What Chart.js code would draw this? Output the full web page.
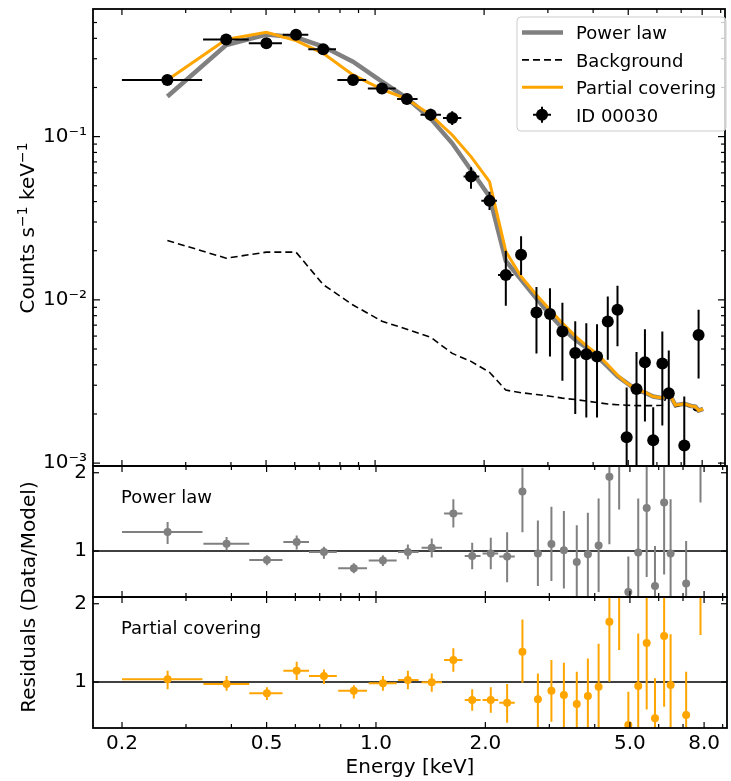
<!DOCTYPE html>
<html>
<head>
<meta charset="utf-8">
<script src="https://cdn.jsdelivr.net/npm/chart.js@4.4.0/dist/chart.umd.min.js"></script>
<style>
  html, body { margin: 0; padding: 0; background: #fff; }
  #wrap { position: relative; width: 731px; height: 781px; overflow: hidden; }
  #wrap canvas { position: absolute; left: 0; top: 0; }
  .ylab {
    position: absolute;
    font: 20px 'DejaVu Sans', sans-serif;
    line-height: 1;
    white-space: nowrap;
    color: #000;
    transform: translate(-50%, -50%) rotate(-90deg);
  }
  .ylab sup { font-size: 70%; }
</style>
</head>
<body>
<div id="wrap">
  <canvas id="spec" width="731" height="781"></canvas>
  <canvas id="resPl" width="731" height="781"></canvas>
  <canvas id="resPc" width="731" height="781"></canvas>
  <div class="ylab" style="left:26px; top:228px">Counts s<sup>−1</sup> keV<sup>−1</sup></div>
  <div class="ylab" style="left:28px; top:597px">Residuals (Data/Model)</div>
</div>
<script>
// ---- data ----
const energy   = [0.267, 0.388, 0.501, 0.605, 0.719, 0.869, 1.045, 1.224, 1.424, 1.633,
                  1.84, 2.07, 2.296, 2.53, 2.79, 3.04, 3.29, 3.57, 3.83, 4.10,
                  4.39, 4.67, 4.95, 5.27, 5.56, 5.86, 6.21, 6.47, 7.14, 7.82];
const energyLo = [0.200, 0.335, 0.448, 0.556, 0.654, 0.787, 0.955, 1.150, 1.335, 1.540,
                  1.755, 1.965, 2.185, 2.48, 2.74, 2.98, 3.23, 3.50, 3.76, 4.02,
                  4.30, 4.58, 4.85, 5.17, 5.45, 5.74, 6.09, 6.34, 7.00, 7.66];
const energyHi = [0.333, 0.448, 0.553, 0.654, 0.780, 0.945, 1.140, 1.310, 1.520, 1.730,
                  1.940, 2.170, 2.410, 2.58, 2.85, 3.10, 3.36, 3.64, 3.91, 4.18,
                  4.48, 4.76, 5.05, 5.38, 5.67, 5.98, 6.33, 6.60, 7.28, 7.98];

const rate   = [0.222, 0.394, 0.373, 0.421, 0.343, 0.222, 0.197, 0.170, 0.136, 0.130,
                0.0569, 0.0404, 0.0142, 0.0189, 0.00836, 0.0082, 0.0064, 0.00472, 0.00465, 0.0045,
                0.00736, 0.0087, 0.00144, 0.00284, 0.00415, 0.00138, 0.00408, 0.00268, 0.00128, 0.0061];
const rateLo = [0.210, 0.375, 0.355, 0.400, 0.325, 0.210, 0.185, 0.158, 0.125, 0.118,
                0.048, 0.0355, 0.0092, 0.0142, 0.0047, 0.0045, 0.0032, 0.0020, 0.0019, 0.0019,
                0.0043, 0.0052, 0.0001, 0.0001, 0.0018, 0.0001, 0.0017, 0.0001, 0.0001, 0.0033];
const rateHi = [0.234, 0.415, 0.393, 0.445, 0.362, 0.236, 0.210, 0.183, 0.148, 0.143,
                0.065, 0.046, 0.020, 0.0245, 0.0120, 0.0118, 0.0096, 0.0074, 0.0072, 0.0071,
                0.0105, 0.0122, 0.0029, 0.0048, 0.0066, 0.0022, 0.0064, 0.0049, 0.00256, 0.0087];

const modelEnergy = [0.267, 0.388, 0.501, 0.605, 0.719, 0.869, 1.045, 1.224, 1.424, 1.633,
                     1.84, 2.07, 2.296, 2.53, 2.79, 3.04, 3.29, 3.57, 3.83, 4.10,
                     4.39, 4.67, 4.95, 5.27, 5.56, 5.86, 6.21, 6.47, 6.75, 7.14,
                     7.45, 7.66, 7.82, 8.05];
const powerLaw   = [0.176, 0.364, 0.422, 0.406, 0.356, 0.288, 0.217, 0.172, 0.129, 0.091,
                    0.0625, 0.0429, 0.0173, 0.0133, 0.0102, 0.0081, 0.0067, 0.0057, 0.0051, 0.0045,
                    0.0039, 0.0034, 0.0031, 0.0028, 0.0027, 0.00256, 0.0025, 0.0027, 0.00226, 0.00231,
                    0.00224, 0.00222, 0.0021, 0.00215];
const partialCov = [0.222, 0.394, 0.435, 0.387, 0.324, 0.239, 0.195, 0.170, 0.136, 0.1024,
                    0.0754, 0.053, 0.0198, 0.0139, 0.0107, 0.0087, 0.0072, 0.0060, 0.00524, 0.00467,
                    0.0040, 0.00346, 0.00309, 0.00283, 0.00272, 0.00256, 0.00251, 0.00272, 0.00226, 0.00231,
                    0.00224, 0.00222, 0.0021, 0.00215];
const background = [0.0231, 0.018, 0.0196, 0.0196, 0.0124, 0.0093, 0.0074, 0.0066, 0.0059, 0.0047,
                    0.0042, 0.0036, 0.0028, 0.0027, 0.00263, 0.00257, 0.0025, 0.00245, 0.0024, 0.00235,
                    0.0023, 0.00228, 0.00226, 0.00225, 0.00225, 0.00225, 0.00226, 0.0027, 0.00222, 0.0023,
                    0.0022, 0.0021, 0.0021, 0.00215];

const resPowerLaw   = [1.243, 1.094, 0.885, 1.115, 0.987, 0.78, 0.88, 0.987, 1.043, 1.48,
                       0.936, 0.97, 0.93, 1.76, 0.97, 1.09, 1.01, 0.86, 0.96, 1.07,
                       1.95, 2.35, 0.476, 0.98, 1.55, 0.553, 1.62, 0.97, 0.584, 2.6];
const resPowerLawLo = [1.09, 1.01, 0.817, 1.02, 0.90, 0.715, 0.81, 0.894, 0.916, 1.30,
                       0.766, 0.766, 0.60, 1.24, 0.553, 0.617, 0.52, 0.38, 0.40, 0.476,
                       1.086, 1.53, 0.0, 0.0, 0.67, 0.0, 0.70, 0.0, 0.0, 1.62];
const resPowerLawHi = [1.37, 1.18, 0.945, 1.20, 1.056, 0.843, 0.945, 1.085, 1.16, 1.66,
                       1.107, 1.17, 1.24, 2.065, 1.39, 1.567, 1.51, 1.33, 1.49, 1.67,
                       2.8, 3.2, 0.93, 1.67, 2.45, 1.064, 2.55, 1.66, 1.128, 3.6];

const resPartial   = [1.034, 0.974, 0.856, 1.144, 1.077, 0.889, 0.983, 1.026, 0.996, 1.28,
                      0.77, 0.77, 0.736, 1.387, 0.779, 0.889, 0.834, 0.719, 0.821, 0.94,
                      1.77, 2.3, 0.45, 0.949, 1.50, 0.536, 1.587, 0.962, 0.58, 2.6];
const resPartialLo = [0.907, 0.889, 0.77, 1.026, 0.974, 0.79, 0.889, 0.907, 0.876, 1.13,
                      0.633, 0.608, 0.48, 0.99, 0.38, 0.493, 0.40, 0.30, 0.35, 0.38,
                      1.004, 1.41, 0.0, 0.0, 0.65, 0.0, 0.685, 0.0, 0.0, 1.60];
const resPartialHi = [1.144, 1.077, 0.932, 1.26, 1.16, 0.96, 1.077, 1.144, 1.11, 1.43,
                      0.907, 0.932, 0.974, 1.80, 1.11, 1.28, 1.246, 1.13, 1.30, 1.49,
                      2.6, 3.2, 0.876, 1.62, 2.4, 1.047, 2.5, 1.61, 1.13, 3.6];

const xTickLabels = [0.2, 0.5, 1.0, 2.0, 5.0, 8.0];
const xMinorTicks = [0.3, 0.4, 0.6, 0.7, 0.8, 0.9, 3, 4, 6, 7, 9];
const yDecades = [0.001, 0.01, 0.1];
const resTicks = [1, 2];

// ---- layout constants ----
const X_MIN = 0.1664, X_MAX = 9.25;
const AXIS_W = 93;
const FONT = 'DejaVu Sans';
const ORANGE = '#ffa500', GRAY = '#808080';

Chart.defaults.font.family = FONT;
Chart.defaults.color = '#000';

const pts = (xs, ys) => xs.map((x, i) => ({ x: x, y: ys[i] }));
const pairs = (lo, hi) => lo.map((v, i) => [v, hi[i]]);

// inward ticks on all four sides plus the frame
function makeFrame(xTicks, yTicks) {
  return {
    id: 'frame',
    afterDatasetsDraw(chart) {
      const { ctx, chartArea: a, scales } = chart;
      const x = scales.x, y = scales.y;
      ctx.save();
      ctx.strokeStyle = '#000';
      ctx.lineWidth = 1.2;
      const line = (x1, y1, x2, y2) => {
        ctx.beginPath(); ctx.moveTo(x1, y1); ctx.lineTo(x2, y2); ctx.stroke();
      };
      xTicks.forEach(([v, len]) => {
        const px = x.getPixelForValue(v);
        line(px, a.bottom, px, a.bottom - len);
        line(px, a.top, px, a.top + len);
      });
      yTicks.forEach(([v, len]) => {
        const py = y.getPixelForValue(v);
        line(a.left, py, a.left + len, py);
        line(a.right, py, a.right - len, py);
      });
      ctx.lineWidth = 1.8;
      ctx.strokeRect(a.left, a.top, a.right - a.left, a.bottom - a.top);
      ctx.restore();
    }
  };
}

// error bars, drawn just before the marker dataset
const errorBars = {
  id: 'errorBars',
  beforeDatasetDraw(chart, args) {
    const ds = chart.data.datasets[args.index];
    if (!ds.yErr) return;
    const { ctx, chartArea: a, scales } = chart;
    const x = scales.x, y = scales.y;
    ctx.save();
    ctx.beginPath();
    ctx.rect(a.left, a.top, a.right - a.left, a.bottom - a.top);
    ctx.clip();
    ctx.strokeStyle = ds.barColor;
    ctx.lineWidth = 2;
    ds.data.forEach((p, i) => {
      const px = x.getPixelForValue(p.x);
      const py = y.getPixelForValue(p.y);
      ctx.beginPath();
      ctx.moveTo(px, y.getPixelForValue(ds.yErr[i][0]));
      ctx.lineTo(px, y.getPixelForValue(ds.yErr[i][1]));
      ctx.moveTo(x.getPixelForValue(ds.xErr[i][0]), py);
      ctx.lineTo(x.getPixelForValue(ds.xErr[i][1]), py);
      ctx.stroke();
    });
    ctx.restore();
  }
};

// matplotlib-like legend box in the upper right
const boxLegend = {
  id: 'boxLegend',
  afterDraw(chart) {
    const ctx = chart.ctx;
    const names = ['Power law', 'Background', 'Partial covering', 'ID 00030'];
    ctx.save();
    ctx.beginPath();
    ctx.roundRect(517, 17, 209, 114, 4);
    ctx.fillStyle = 'rgba(255,255,255,0.8)';
    ctx.fill();
    ctx.strokeStyle = '#cccccc';
    ctx.lineWidth = 1;
    ctx.stroke();
    names.forEach((name, i) => {
      const d = chart.data.datasets.find(s => s.label === name);
      const cy = 32.5 + i * 27.4;
      if (d.showLine) {
        ctx.beginPath();
        ctx.setLineDash(d.borderDash || []);
        ctx.strokeStyle = d.borderColor;
        ctx.lineWidth = d.borderWidth;
        ctx.moveTo(522, cy);
        ctx.lineTo(563, cy);
        ctx.stroke();
        ctx.setLineDash([]);
      } else {
        ctx.strokeStyle = d.barColor;
        ctx.lineWidth = 2;
        ctx.beginPath();
        ctx.moveTo(533, cy); ctx.lineTo(551, cy);
        ctx.moveTo(542, cy - 8); ctx.lineTo(542, cy + 8);
        ctx.stroke();
        ctx.beginPath();
        ctx.arc(542, cy, d.pointRadius, 0, Math.PI * 2);
        ctx.fillStyle = d.backgroundColor;
        ctx.fill();
      }
      ctx.fillStyle = '#000';
      ctx.font = '18px "' + FONT + '"';
      ctx.textBaseline = 'alphabetic';
      ctx.fillText(name, 576, cy + 6.8);
    });
    ctx.restore();
  }
};

const panelText = {
  id: 'panelText',
  afterDraw(chart, args, opts) {
    if (!opts.text) return;
    const ctx = chart.ctx;
    const a = chart.chartArea;
    ctx.save();
    ctx.font = '18px "' + FONT + '"';
    ctx.fillStyle = '#000';
    ctx.textBaseline = 'alphabetic';
    ctx.fillText(opts.text, a.left + 28, a.top + 36.5);
    ctx.restore();
  }
};

// tick lists for the frame plugin
const xFrameTicks = xTickLabels.map(v => [v, 6]).concat(xMinorTicks.map(v => [v, 4]));
const yLogTicks = [];
yDecades.forEach(d => {
  yLogTicks.push([d, 7]);
  for (let m = 2; m <= 9; m++) {
    if (d * m <= 0.6) yLogTicks.push([d * m, 4]);
  }
});
const yResTicks = resTicks.map(v => [v, 6]);

const supDigits = { 1: '\u00b9', 2: '\u00b2', 3: '\u00b3' };
const decadeLabel = v => '10\u207b' + supDigits[Math.round(-Math.log10(v))];

function yAxis(extra) {
  return Object.assign({
    bounds: 'data',
    // fixed width, and no extra room for labels at the ends
    afterFit: s => { s.width = AXIS_W; s.paddingTop = 0; s.paddingBottom = 0; },
    grid: { display: false, drawTicks: false },
    border: { display: false },
    ticks: { font: { size: 20 }, color: '#000', padding: 6, autoSkip: false }
  }, extra);
}

function xAxis(show) {
  const ax = {
    type: 'logarithmic', min: X_MIN, max: X_MAX, bounds: 'data', display: show,
    grid: { display: false, drawTicks: false },
    border: { display: false }
  };
  if (show) {
    ax.afterFit = s => { s.height = 53; s.paddingLeft = 0; s.paddingRight = 0; };
    ax.afterBuildTicks = s => { s.ticks = xTickLabels.map(v => ({ value: v })); };
    ax.ticks = {
      font: { size: 20 }, color: '#000', padding: 4, autoSkip: false, maxRotation: 0,
      callback: v => Number(v).toFixed(1)
    };
    ax.title = { display: true, text: 'Energy [keV]', font: { size: 20 }, color: '#000', padding: { top: 0, bottom: 1 } };
  }
  return ax;
}

const common = {
  responsive: false,
  animation: false,
  events: []
};

// ---- spectrum panel ----
new Chart(document.getElementById('spec'), {
  type: 'scatter',
  data: {
    datasets: [
      {
        label: 'ID 00030',
        data: pts(energy, rate),
        xErr: pairs(energyLo, energyHi),
        yErr: pairs(rateLo, rateHi),
        barColor: '#000',
        backgroundColor: '#000',
        borderWidth: 0,
        pointRadius: 6,
        order: 0
      },
      {
        label: 'Partial covering',
        data: pts(modelEnergy, partialCov),
        showLine: true, pointRadius: 0,
        borderColor: ORANGE, borderWidth: 3,
        order: 1
      },
      {
        label: 'Background',
        data: pts(modelEnergy, background),
        showLine: true, pointRadius: 0,
        borderColor: '#000', borderWidth: 1.6, borderDash: [7, 4],
        order: 2
      },
      {
        label: 'Power law',
        data: pts(modelEnergy, powerLaw),
        showLine: true, pointRadius: 0,
        borderColor: GRAY, borderWidth: 4.5,
        order: 3
      }
    ]
  },
  options: Object.assign({}, common, {
    layout: { padding: { top: 9, bottom: 781 - 466, left: 0, right: 1 } },
    scales: {
      x: xAxis(false),
      y: yAxis({
        type: 'logarithmic', min: 0.00096, max: 0.605,
        afterBuildTicks: s => { s.ticks = yDecades.map(v => ({ value: v })); },
        ticks: { font: { size: 20 }, color: '#000', padding: 6, autoSkip: false, callback: v => decadeLabel(v) }
      })
    },
    plugins: { legend: { display: false }, tooltip: { enabled: false } }
  }),
  plugins: [makeFrame(xFrameTicks, yLogTicks), errorBars, boxLegend]
});

// ---- residual panels ----
function residualChart(id, label, color, vals, lo, hi, top, bottom, showX) {
  return new Chart(document.getElementById(id), {
    type: 'scatter',
    data: {
      datasets: [
        {
          label: label,
          data: pts(energy, vals),
          xErr: pairs(energyLo, energyHi),
          yErr: pairs(lo, hi),
          barColor: color,
          backgroundColor: color,
          borderWidth: 0,
          pointRadius: 4,
          order: 0
        },
        {
          label: 'unity',
          data: [{ x: X_MIN, y: 1 }, { x: X_MAX, y: 1 }],
          showLine: true, pointRadius: 0,
          borderColor: '#000', borderWidth: 1.5,
          order: 1
        }
      ]
    },
    options: Object.assign({}, common, {
      layout: { padding: { top: top, bottom: bottom, left: 0, right: 1 } },
      scales: {
        x: xAxis(showX),
        y: yAxis({
          type: 'linear', min: 0.413, max: 2.086,
          afterBuildTicks: s => { s.ticks = resTicks.map(v => ({ value: v })); },
          ticks: { font: { size: 20 }, color: '#000', padding: 6, autoSkip: false, callback: v => String(v) }
        })
      },
      plugins: { legend: { display: false }, tooltip: { enabled: false }, panelText: { text: label } }
    }),
    plugins: [makeFrame(xFrameTicks, yResTicks), errorBars, panelText]
  });
}

residualChart('resPl', 'Power law', GRAY, resPowerLaw, resPowerLawLo, resPowerLawHi, 466, 781 - 597, false);
residualChart('resPc', 'Partial covering', ORANGE, resPartial, resPartialLo, resPartialHi, 597, 0, true);
</script>
</body>
</html>
